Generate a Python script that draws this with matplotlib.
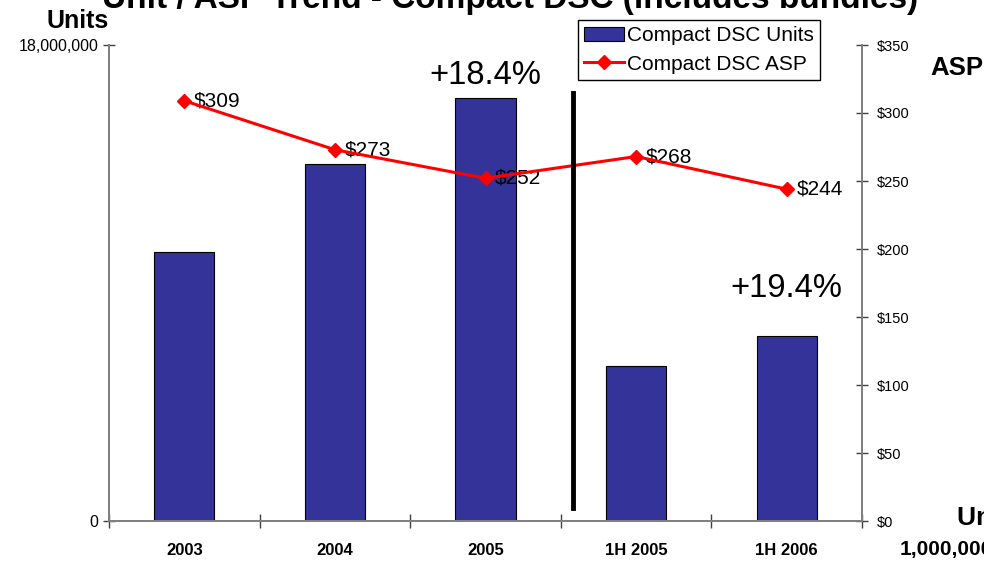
import matplotlib
matplotlib.use("Agg")
import matplotlib.pyplot as plt
from matplotlib import font_manager
from matplotlib.patches import Patch
from matplotlib.lines import Line2D

# ---- data ----
categories = ["2003", "2004", "2005", "1H 2005", "1H 2006"]
units = [10_170_000, 13_500_000, 16_000_000, 5_860_000, 7_000_000]
asp = [309, 273, 252, 268, 244]
asp_labels = ["$309", "$273", "$252", "$268", "$244"]
growth_labels = ["+18.4%", "+19.4%"]
growth_index = [2, 4]
left_ticks = [0, 18_000_000]
left_ticklabels = ["0", "18,000,000"]
right_ticks = [0, 50, 100, 150, 200, 250, 300, 350]

names = {f.name for f in font_manager.fontManager.ttflist}
NARROW = "Liberation Sans Narrow" if "Liberation Sans Narrow" in names else "Liberation Sans"
REG = "Liberation Sans" if "Liberation Sans" in names else "DejaVu Sans"
stretch = "normal" if NARROW == "Liberation Sans Narrow" else "condensed"

plt.rcParams["font.family"] = [REG, "DejaVu Sans"]

BAR = "#333399"
fig = plt.figure(figsize=(9.84, 5.61), dpi=100)
ax = fig.add_axes([109/984, 40/561, (862-109)/984, (521-45)/561])
ax2 = ax.twinx()

x = list(range(len(categories)))
ax.bar(x, units, width=0.4, color=BAR, edgecolor="black", linewidth=0.8, zorder=2)
ax.set_xlim(-0.5, len(categories) - 0.5)
ax.set_ylim(0, 18_000_000)
ax2.set_ylim(0, 350)

ax2.plot(x, asp, color="#FF0000", lw=2.2, marker="D", markersize=7.5, zorder=5)
for xi, v, lab in zip(x, asp, asp_labels):
    ax2.annotate(lab, (xi, v), xytext=(7, 0), textcoords="offset points",
                 va="center", ha="left", fontsize=15, family=[NARROW, "DejaVu Sans"],
                 fontstretch=stretch)

for gi, lab, off in zip(growth_index, growth_labels, [5, 23]):
    ax.annotate(lab, (gi, units[gi]), xytext=(0, off), textcoords="offset points",
                ha="center", va="bottom", fontsize=23.5, family=[NARROW, "DejaVu Sans"],
                fontstretch=stretch)

# divider between annual and half-year data
ax2.axvline(2.58, ymin=0.027, ymax=0.90, color="black", lw=3.5, zorder=6)

for a in (ax, ax2):
    a.spines["top"].set_visible(False)
    for s in ("left", "right", "bottom"):
        a.spines[s].set_color("#808080")
        a.spines[s].set_linewidth(1.3)

ax.set_yticks(left_ticks)
ax.set_yticklabels(left_ticklabels, family=[NARROW, "DejaVu Sans"], fontstretch=stretch)
ax.tick_params(axis="y", direction="inout", length=9, width=1, color="#404040",
               labelsize=11.5, pad=3)
ax2.set_yticks(right_ticks)
ax2.set_yticklabels([f"${t}" for t in right_ticks], family=[NARROW, "DejaVu Sans"],
                    fontstretch=stretch)
ax2.tick_params(axis="y", direction="inout", length=9, width=1, color="#404040",
                labelsize=10.5, pad=6)

ax.set_xticks(x)
ax.set_xticklabels(categories, family=[NARROW, "DejaVu Sans"], fontstretch=stretch,
                   fontweight="bold")
ax.tick_params(axis="x", length=0, labelsize=12, pad=16)
ax.set_xticks([i - 0.5 for i in range(len(categories) + 1)], minor=True)
ax.tick_params(axis="x", which="minor", direction="inout", length=10, width=1,
               color="#404040")

fig.text(510/984, 1 - 8/561, "Unit / ASP Trend - Compact DSC (includes bundles)",
         ha="center", va="baseline", fontsize=24, fontweight="bold")
fig.text(78/984, 1 - 21/561, "Units", ha="center", va="center", fontsize=18,
         fontweight="bold")
fig.text(930/984, 1 - 68/561, "ASP", ha="left", va="center", fontsize=18.5,
         fontweight="bold", family=[NARROW, "DejaVu Sans"], fontstretch=stretch)
fig.text(957/984, 1 - 518/561, "Units in", ha="left", va="center", fontsize=19,
         fontweight="bold", family=[NARROW, "DejaVu Sans"], fontstretch=stretch)
fig.text(900/984, 1 - 550/561, "1,000,000s", ha="left", va="center", fontsize=15,
         fontweight="bold", family=[NARROW, "DejaVu Sans"], fontstretch=stretch)

handles = [Patch(facecolor=BAR, edgecolor="black", linewidth=0.8),
           Line2D([], [], color="#FF0000", lw=2.2, marker="D", markersize=7.5)]
leg = fig.legend(handles, ["Compact DSC Units", "Compact DSC ASP"],
                 loc="upper left", bbox_to_anchor=(578/984, 1 - 20/561),
                 fontsize=15, frameon=True, fancybox=False, framealpha=1,
                 edgecolor="black", borderpad=0.3, labelspacing=0.45,
                 handlelength=1.9, handleheight=0.65, handletextpad=0.15,
                 borderaxespad=0)
leg.get_frame().set_linewidth(1.0)

fig.savefig("out.png", dpi=100)
